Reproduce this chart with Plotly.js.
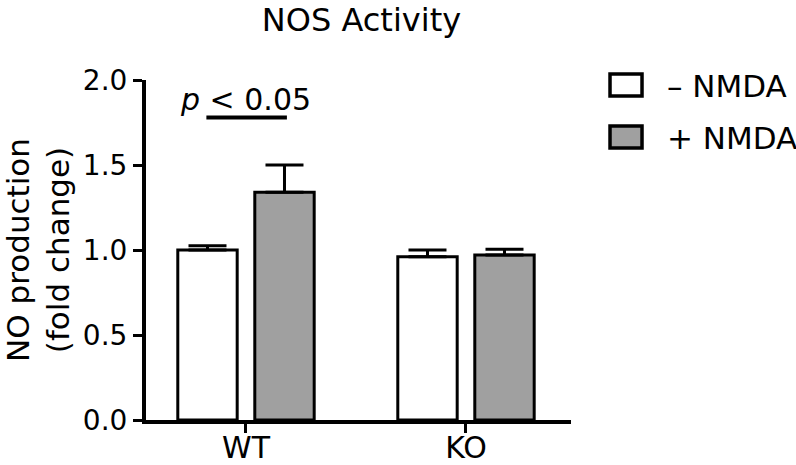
<!DOCTYPE html>
<html>
<head>
<meta charset="utf-8">
<script src="https://cdn.plot.ly/plotly-3.0.1.min.js"></script>
<style>html,body{margin:0;padding:0;background:#fff;}#chart{width:796px;height:465px;}</style>
</head>
<body>
<div id="chart"></div>
<script>
var categories = ["WT", "KO"];
var seriesNames = ["\u2013 NMDA", "+ NMDA"];
var minusNMDA = [1.00, 0.96];
var minusNMDAErr = [0.025, 0.04];
var plusNMDA = [1.34, 0.97];
var plusNMDAErr = [0.16, 0.035];
var yTickVals = [0, 0.5, 1.0, 1.5, 2.0];
var yTickText = ["0.0", "0.5", "1.0", "1.5", "2.0"];
var sigLabel = "<i>p</i> &lt; 0.05";
var sigY = 1.779;

var FONT = "DejaVu Sans, Arial, sans-serif";
var grayFill = "#a0a0a0";

function zeros(a){ return a.map(function(){ return 0; }); }

var traces = [
  {
    type: "bar", name: seriesNames[0], x: categories, y: minusNMDA,
    width: 0.27, offset: -0.31,
    marker: {color: "#ffffff", line: {color: "#000", width: 3}},
    error_y: {type: "data", symmetric: false, array: minusNMDAErr, arrayminus: zeros(minusNMDAErr),
              color: "#000", thickness: 3, width: 19},
    showlegend: false, hoverinfo: "skip"
  },
  {
    type: "bar", name: seriesNames[1], x: categories, y: plusNMDA,
    width: 0.27, offset: 0.04,
    marker: {color: grayFill, line: {color: "#000", width: 3}},
    error_y: {type: "data", symmetric: false, array: plusNMDAErr, arrayminus: zeros(plusNMDAErr),
              color: "#000", thickness: 3, width: 19},
    showlegend: false, hoverinfo: "skip"
  }
];

var layout = {
  width: 796, height: 465,
  margin: {l: 146, r: 225, t: 80, b: 45, pad: 0},
  paper_bgcolor: "#fff", plot_bgcolor: "#fff",
  font: {family: FONT, color: "#000"},
  title: {text: "NOS Activity", font: {size: 32, family: FONT, color: "#000"},
          x: 0.507, xref: "paper", xanchor: "center", y: 0.958, yref: "container", yanchor: "middle"},
  xaxis: {
    type: "category", range: [-0.4545, 1.4773],
    showline: true, linecolor: "#000", linewidth: 4,
    ticks: "outside", ticklen: 9, tickwidth: 3, tickcolor: "#000",
    ticklabelstandoff: -11,
    tickfont: {size: 30, family: FONT, color: "#000"},
    showgrid: false, zeroline: false, fixedrange: true
  },
  yaxis: {
    range: [0, 2], tickvals: yTickVals, ticktext: yTickText,
    showline: true, linecolor: "#000", linewidth: 4,
    ticks: "outside", ticklen: 9, tickwidth: 3, tickcolor: "#000",
    tickfont: {size: 28, family: FONT, color: "#000"},
    showgrid: false, zeroline: false, fixedrange: true,
    title: {text: "NO production<br>(fold change)", font: {size: 31, family: FONT, color: "#000"}, standoff: 14}
  },
  shapes: [
    {type: "line", xref: "x", yref: "y", x0: -0.18, x1: 0.186, y0: sigY, y1: sigY,
     line: {color: "#000", width: 4}},
    {type: "rect", xref: "paper", yref: "paper", x0: 1.0918, x1: 1.1671, y0: 0.9529, y1: 1.0176,
     fillcolor: "#ffffff", line: {color: "#000", width: 3.5}},
    {type: "rect", xref: "paper", yref: "paper", x0: 1.0918, x1: 1.1671, y0: 0.8, y1: 0.8647,
     fillcolor: grayFill, line: {color: "#000", width: 3.5}}
  ],
  annotations: [
    {text: sigLabel, xref: "x", yref: "y", x: 0, y: 1.887, xanchor: "center", yanchor: "middle",
     showarrow: false, font: {size: 30, family: FONT, color: "#000"}},
    {text: seriesNames[0], xref: "paper", yref: "paper", x: 1.2212, y: 0.9824, xanchor: "left", yanchor: "middle",
     showarrow: false, font: {size: 31, family: FONT, color: "#000"}},
    {text: seriesNames[1], xref: "paper", yref: "paper", x: 1.2212, y: 0.8294, xanchor: "left", yanchor: "middle",
     showarrow: false, font: {size: 31, family: FONT, color: "#000"}}
  ]
};

Plotly.newPlot("chart", traces, layout, {displayModeBar: false, staticPlot: true});
</script>
</body>
</html>
